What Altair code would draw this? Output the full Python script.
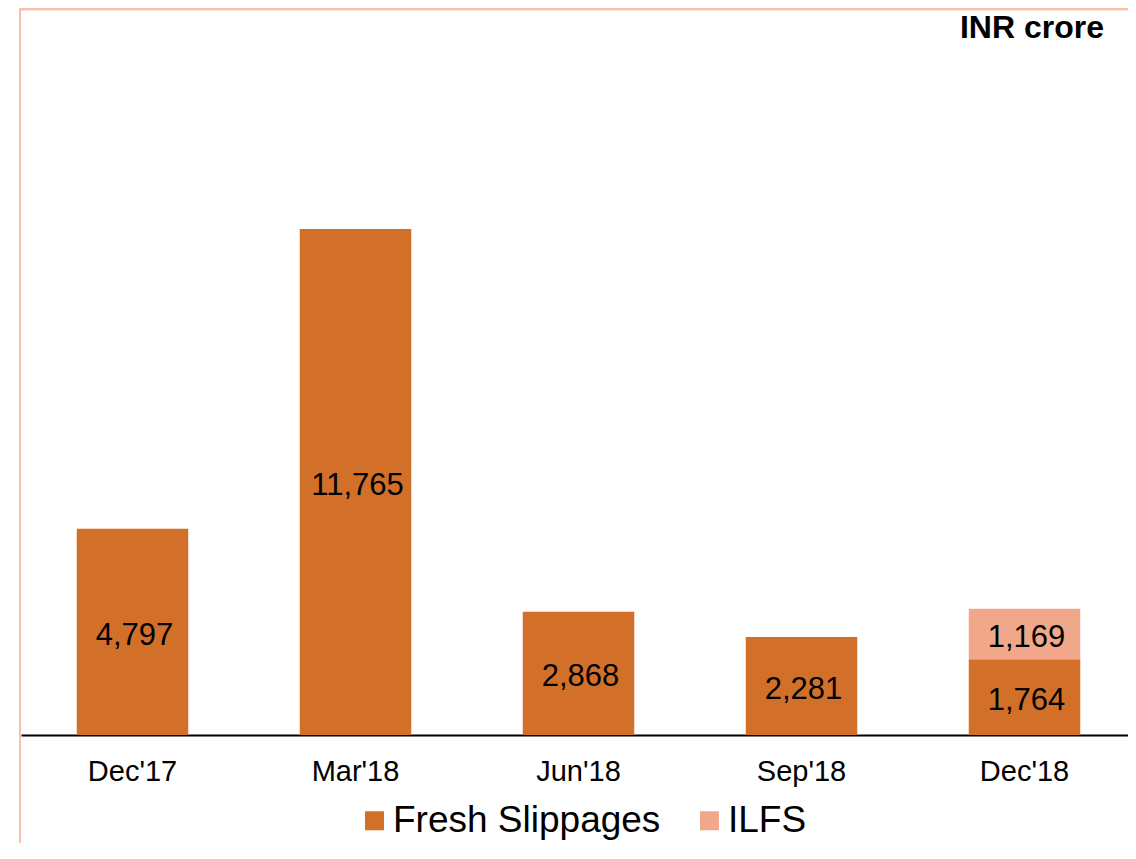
import altair as alt
import pandas as pd

quarters = ["Dec'17", "Mar'18", "Jun'18", "Sep'18", "Dec'18"]
fresh = [4797, 11765, 2868, 2281, 1764]
ilfs_quarters = ["Dec'18"]
ilfs = [1169]
series = ["Fresh Slippages", "ILFS"]
colors = ["#D2702A", "#F1A88A"]

rows = []
for q, v in zip(quarters, fresh):
    rows.append({"quarter": q, "series": "Fresh Slippages", "value": v, "ord": 0})
for q, v in zip(ilfs_quarters, ilfs):
    rows.append({"quarter": q, "series": "ILFS", "value": v, "ord": 1})
df = pd.DataFrame(rows)

FONT = "Liberation Sans"
BORDER = "#F9BEAE"

base = alt.Chart(df).transform_stack(
    stack="value", groupby=["quarter"], as_=["y0", "y1"], sort=[alt.SortField("ord")]
).transform_calculate(mid="(datum.y0 + datum.y1) / 2")

xscale = alt.Scale(paddingInner=0.5, paddingOuter=0.25, range=[0, 1115])
xenc = alt.X(
    "quarter:N",
    sort=quarters,
    scale=xscale,
    axis=alt.Axis(
        title=None, labelAngle=0, labelFontSize=29, labelFont=FONT, labelColor="black",
        ticks=False, tickSize=0, labelPadding=22, domainColor="black", domainWidth=2,
        grid=False,
    ),
)
yscale = alt.Scale(domain=[0, 16857], nice=False, zero=True)

bars = base.mark_bar().encode(
    x=xenc,
    y=alt.Y("y1:Q", scale=yscale, axis=None),
    y2="y0:Q",
    color=alt.Color(
        "series:N",
        scale=alt.Scale(domain=series, range=colors),
        legend=alt.Legend(
            title=None, orient="none", legendX=335, legendY=792, direction="horizontal",
            symbolType="square", symbolSize=361, symbolStrokeWidth=0,
            labelFontSize=37, labelFont=FONT, labelColor="black", labelOffset=0,
            labelLimit=500, columnPadding=30, padding=0,
        ),
    ),
)

labels = base.mark_text(fontSize=31, font=FONT, color="black", dx=2, dy=4, baseline="middle").encode(
    x=alt.X("quarter:N", sort=quarters, scale=xscale),
    y=alt.Y("mid:Q", scale=yscale),
    text=alt.Text("value:Q", format=",d"),
)

one = pd.DataFrame({"a": [0]})
left_border = alt.Chart(one).mark_rule(color=BORDER, strokeWidth=2).encode(
    x=alt.value(-1), y=alt.value(-10), y2=alt.value(900)
)
top_border = alt.Chart(one).mark_rule(color=BORDER, strokeWidth=3).encode(
    x=alt.value(-2), x2=alt.value(1200), y=alt.value(-1)
)
unit = alt.Chart(one).mark_text(
    text="INR crore", fontSize=32, fontWeight="bold", font=FONT, align="right",
    baseline="alphabetic", color="black",
).encode(x=alt.value(1083), y=alt.value(28))

chart = alt.layer(bars, labels, left_border, top_border, unit).properties(
    width=1107, height=725,
    autosize=alt.AutoSizeParams(type="none"),
    padding={"left": 13, "top": 2, "right": 0, "bottom": 108},
).configure_view(stroke=None)

chart.save("out.html", embed_options={"renderer": "svg", "actions": False})
